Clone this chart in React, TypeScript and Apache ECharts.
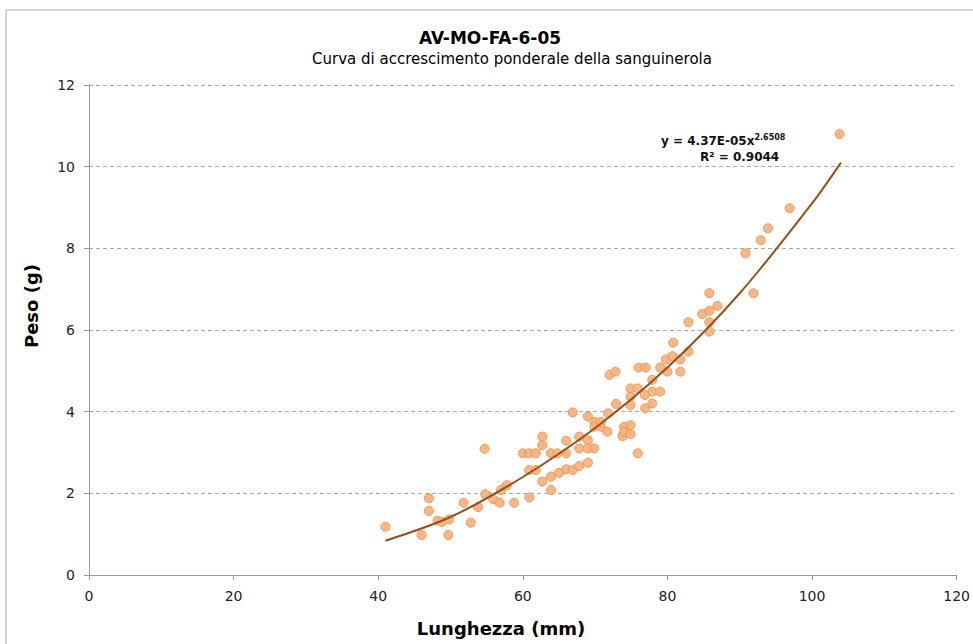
import React, { useEffect, useRef } from "react";
import * as echarts from "echarts";

const lengths = [
  41, 46, 47, 47, 48.2, 48.8, 49.8, 49.7, 51.8, 52.8, 53.8, 54.8, 54.7, 55.9, 56.8, 57, 57.8, 58.8,
  60, 60.9, 61.8, 60.9, 61.8, 60.9, 62.7, 62.7, 62.7, 63.9, 64.8, 63.9, 63.9, 65, 66, 66, 66,
  66.9, 66.9, 67.8, 67.8, 67.8, 69, 69, 69, 69, 69.9, 69.9, 69.9, 70.8, 70.8, 71.7, 71.8, 72,
  72.8, 72.9, 73.8, 74, 74, 74.9, 74.9, 74.9, 74.9, 74.9, 75.9, 75.9, 76.9, 76.9, 76, 77, 77.9,
  77.9, 77.9, 79, 79, 79.8, 80, 80.7, 80.8, 81.8, 81.8, 82.9, 82.9, 84.8, 85.8, 85.8, 85.8, 85.8,
  86.9, 90.8, 91.9, 92.9, 93.9, 96.9, 103.8,
];
const weights = [
  1.18, 0.98, 1.88, 1.57, 1.33, 1.3, 1.36, 0.98, 1.77, 1.28, 1.66, 1.98, 3.09, 1.86, 1.77, 2.08, 2.2, 1.77,
  2.98, 2.98, 2.98, 2.57, 2.57, 1.9, 3.39, 3.18, 2.29, 2.98, 2.98, 2.41, 2.08, 2.5, 2.59, 3.29, 2.98,
  2.57, 3.98, 3.39, 3.1, 2.67, 2.75, 3.3, 3.1, 3.88, 3.75, 3.63, 3.1, 3.63, 3.75, 3.51, 3.96, 4.9,
  4.98, 4.19, 3.4, 3.63, 3.5, 3.67, 3.45, 4.16, 4.37, 4.57, 4.57, 2.98, 4.41, 4.08, 5.08, 5.08, 4.49,
  4.2, 4.78, 4.49, 5.08, 5.28, 4.98, 5.36, 5.69, 5.28, 4.98, 5.47, 6.19, 6.39, 6.47, 6.9, 5.96, 6.19,
  6.59, 7.88, 6.9, 8.2, 8.49, 8.98, 10.8,
];

// Trendline as drawn in the picture
const trendX = [41, 50, 60, 70, 80, 90, 100, 104];
const trendY = [0.84, 1.42, 2.4, 3.6, 5.08, 6.9, 9.1, 10.1];

const TITLE = "AV-MO-FA-6-05";
const SUBTITLE = "Curva di accrescimento ponderale della sanguinerola";
const X_NAME = "Lunghezza (mm)";
const Y_NAME = "Peso (g)";
const EQ_MAIN = "y = 4.37E-05x";
const EQ_EXP = "2.6508";
const R2_TEXT = "R² = 0.9044";

const FONT = "DejaVu Sans";

export default function App() {
  const ref = useRef<HTMLDivElement>(null);
  useEffect(() => {
    if (!ref.current) return;
    const chart = echarts.init(ref.current, null, { renderer: "svg" });
    const points = lengths.map((x, i) => [x, weights[i]]);
    const trend = trendX.map((x, i) => [x, trendY[i]]);
    chart.setOption({
      animation: false,
      backgroundColor: "#ffffff",
      textStyle: { fontFamily: FONT },
      grid: { left: 89, right: 15, top: 85, bottom: 69, containLabel: false },
      xAxis: {
        type: "value",
        min: 0,
        max: 120,
        interval: 20,
        axisLine: { lineStyle: { color: "#999" } },
        axisTick: { show: true, length: 5, lineStyle: { color: "#999" } },
        axisLabel: { fontFamily: FONT, fontSize: 14, color: "#222", margin: 14 },
        splitLine: { show: false },
      },
      yAxis: {
        type: "value",
        min: 0,
        max: 12,
        interval: 2,
        axisLine: { show: true, lineStyle: { color: "#999" } },
        axisTick: { show: true, length: 5, lineStyle: { color: "#999" } },
        axisLabel: { fontFamily: FONT, fontSize: 14, color: "#222", margin: 14 },
        splitLine: { show: true, lineStyle: { color: "#aaa", type: [4, 3], width: 1 } },
      },
      series: [
        {
          type: "scatter",
          data: points,
          symbol: "circle",
          symbolSize: 9,
          itemStyle: { color: "#F8B37D", borderColor: "#EC9553", borderWidth: 1, opacity: 0.95 },
          z: 2,
        },
        {
          type: "line",
          data: trend,
          smooth: 0.3,
          showSymbol: false,
          lineStyle: { color: "#96501A", width: 2 },
          z: 3,
        },
      ],
      graphic: [
        {
          type: "rect",
          shape: { x: 6, y: 10, width: 1000, height: 700 },
          style: { fill: "none", stroke: "#aaa", lineWidth: 1 },
          silent: true,
        },
        {
          type: "text",
          x: 490,
          y: 38,
          style: {
            text: TITLE,
            fontFamily: FONT,
            fontSize: 17,
            fontWeight: "bold",
            fill: "#000",
            align: "center",
            verticalAlign: "middle",
          },
        },
        {
          type: "text",
          x: 512,
          y: 59,
          style: {
            text: SUBTITLE,
            fontFamily: FONT,
            fontSize: 15,
            fill: "#000",
            align: "center",
            verticalAlign: "middle",
          },
        },
        {
          type: "text",
          x: 501,
          y: 628,
          style: {
            text: X_NAME,
            fontFamily: FONT,
            fontSize: 18,
            fontWeight: "bold",
            fill: "#000",
            align: "center",
            verticalAlign: "middle",
          },
        },
        {
          type: "text",
          x: 31,
          y: 306,
          rotation: Math.PI / 2,
          style: {
            text: Y_NAME,
            fontFamily: FONT,
            fontSize: 18,
            fontWeight: "bold",
            fill: "#000",
            align: "center",
            verticalAlign: "middle",
          },
        },
        {
          type: "text",
          x: 661,
          y: 133,
          style: {
            text: "{a|" + EQ_MAIN + "}{s|" + EQ_EXP + "}",
            rich: {
              a: { fontFamily: FONT, fontSize: 12, fontWeight: "bold", fill: "#111" },
              s: { fontFamily: FONT, fontSize: 8, fontWeight: "bold", fill: "#111", padding: [0, 0, 7, 0] },
            },
          },
        },
        {
          type: "text",
          x: 700,
          y: 151,
          style: {
            text: R2_TEXT,
            fontFamily: FONT,
            fontSize: 12,
            fontWeight: "bold",
            fill: "#111",
          },
        },
      ],
    });
    return () => chart.dispose();
  }, []);
  return (
    <div
      ref={ref}
      style={{ position: "fixed", left: 0, top: 0, width: 973, height: 644 }}
    />
  );
}
